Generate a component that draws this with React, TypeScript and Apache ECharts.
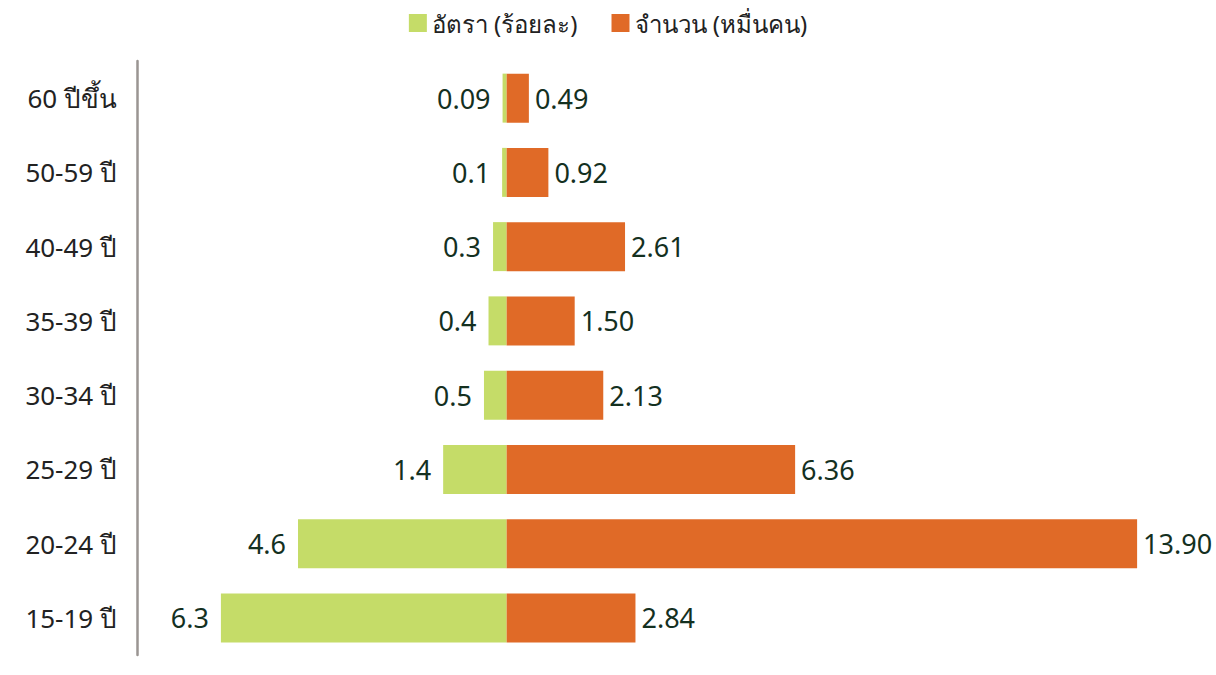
import React, { useEffect, useRef } from "react";
import * as echarts from "echarts";

const categories = ["15-19 ปี", "20-24 ปี", "25-29 ปี", "30-34 ปี", "35-39 ปี", "40-49 ปี", "50-59 ปี", "60 ปีขึ้น"];
const rateValues = [6.3, 4.6, 1.4, 0.5, 0.4, 0.3, 0.1, 0.09];
const countValues = [2.84, 13.9, 6.36, 2.13, 1.5, 2.61, 0.92, 0.49];
const rateName = "อัตรา (ร้อยละ)";
const countName = "จำนวน (หมื่นคน)";

export default function App() {
  const ref = useRef<HTMLDivElement>(null);
  useEffect(() => {
    if (!ref.current) return;
    const chart = echarts.init(ref.current, null, { renderer: "svg" });
    const font = "'Noto Sans', 'DejaVu Sans', sans-serif";
    chart.setOption({
      animation: false,
      textStyle: { fontFamily: font },
      legend: {
        top: 6,
        left: "center",
        icon: "rect",
        itemWidth: 18,
        itemHeight: 18,
        itemGap: 34,
        textStyle: { fontSize: 24, color: "#222", fontFamily: font },
        data: [rateName, countName],
      },
      grid: { left: 137, right: 29, top: 61, bottom: 20, containLabel: false },
      xAxis: {
        type: "value",
        min: -8.15,
        max: 15,
        show: false,
        splitLine: { show: false },
      },
      yAxis: {
        type: "category",
        data: categories,
        axisTick: { show: false },
        axisLine: { show: true, onZero: false, lineStyle: { color: "#9a9592", width: 2.5 } },
        axisLabel: { fontSize: 26, color: "#222", margin: 20, fontFamily: font },
      },
      series: [
        {
          name: rateName,
          type: "bar",
          stack: "total",
          barWidth: 49,
          itemStyle: { color: "#c5dc68" },
          data: rateValues.map((v) => -v),
          label: {
            show: true,
            position: "left",
            distance: 12,
            fontSize: 27,
            color: "#14301f",
            fontFamily: font,
            formatter: (p: any) => String(Math.abs(p.value)),
          },
        },
        {
          name: countName,
          type: "bar",
          stack: "total",
          barWidth: 49,
          itemStyle: { color: "#e06a27" },
          data: countValues,
          label: {
            show: true,
            position: "right",
            distance: 6,
            fontSize: 27,
            color: "#14301f",
            fontFamily: font,
            formatter: (p: any) => Number(p.value).toFixed(2),
          },
        },
      ],
    });
    return () => chart.dispose();
  }, []);
  return (
    <div
      ref={ref}
      style={{ position: "absolute", left: 0, top: 0, width: 1216, height: 675 }}
    />
  );
}
